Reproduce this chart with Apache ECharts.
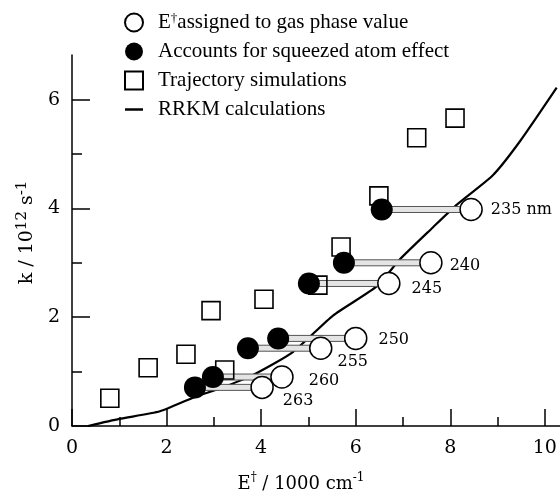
<!DOCTYPE html>
<html>
<head>
<meta charset="utf-8">
<script src="https://cdn.jsdelivr.net/npm/echarts@6/dist/echarts.min.js"></script>
<style>html,body{margin:0;padding:0;background:#fff}#c{width:560px;height:498px}</style>
</head>
<body>
<div id="c"></div>
<script>
// ---- data ----
const xTicks = [0, 2, 4, 6, 8, 10];
const yTicks = [0, 2, 4, 6];
const wavelengths = ['235 nm', '240', '245', '250', '255', '260', '263'];
const rateK = [3.98, 3.00, 2.62, 1.61, 1.43, 0.90, 0.71];
const gasPhaseE = [8.44, 7.59, 6.70, 6.00, 5.26, 4.44, 4.02];
const squeezedE = [6.55, 5.75, 5.01, 4.36, 3.72, 2.98, 2.60];
const trajE = [0.80, 1.61, 2.41, 2.94, 3.23, 4.06, 5.20, 5.69, 6.49, 7.29, 8.10];
const trajK = [0.51, 1.07, 1.32, 2.12, 1.03, 2.33, 2.59, 3.29, 4.23, 5.30, 5.66];
const rrkmE = [0.34, 1.0, 1.86, 2.56, 3.19, 3.83, 4.67, 5.52, 6.45, 6.93, 7.63, 8.14, 8.90, 9.47, 10.25];
const rrkmK = [0, 0.13, 0.27, 0.52, 0.71, 0.94, 1.36, 2.03, 2.57, 3.06, 3.65, 4.07, 4.61, 5.23, 6.22];
const seriesNames = ['E†assigned to gas phase value', 'Accounts for squeezed atom effect', 'Trajectory simulations', 'RRKM calculations'];

// ---- label placement (style) ----
const labelPlace = [[8, 0], [7, 3], [11, 5], [11, 1], [5, 14], [15, 4], [9, 13]];

const serif = 'DejaVu Serif';
const lserif = 'Liberation Serif';

const chart = echarts.init(document.getElementById('c'), null, {renderer: 'canvas'});

const openData = gasPhaseE.map((x, i) => ({
  value: [x, rateK[i]],
  label: {
    show: true, position: 'right', distance: labelPlace[i][0], offset: [0, labelPlace[i][1]],
    formatter: wavelengths[i], fontFamily: serif, fontSize: 16, color: '#000'
  }
}));

const option = {
  backgroundColor: '#fff',
  animation: false,
  grid: {left: 72, right: 0, top: 55, bottom: 66, containLabel: false},
  legend: {
    orient: 'vertical', left: 119, top: 7, itemWidth: 18, itemHeight: 18, itemGap: 8,
    data: [
      {name: seriesNames[0]},
      {name: seriesNames[1]},
      {name: seriesNames[2]},
      {name: seriesNames[3], icon: 'path://M0,0L16,0L16,2.2L0,2.2Z', itemStyle: {color: '#000', borderWidth: 0}}
    ],
    formatter: function (n) {
      if (n === seriesNames[0]) return '{a|E}{s|†}{a|assigned to gas phase value}';
      return '{a|' + n + '}';
    },
    textStyle: {
      padding: [0, 0, 0, 10],
      rich: {
        a: {fontFamily: lserif, fontSize: 21, color: '#000', lineHeight: 21},
        s: {fontFamily: lserif, fontSize: 13, color: '#000', lineHeight: 11, verticalAlign: 'top'}
      }
    }
  },
  xAxis: {
    type: 'value', min: 0, max: 10.32, interval: 2,
    splitLine: {show: false},
    axisLine: {lineStyle: {color: '#000', width: 1.5}},
    axisTick: {inside: true, length: 17, customValues: xTicks, lineStyle: {color: '#000', width: 1.5}},
    minorTick: {show: true, splitNumber: 2, length: 9, lineStyle: {color: '#000', width: 1.5}},
    axisLabel: {customValues: xTicks, margin: 13, fontFamily: serif, fontSize: 19, color: '#000'},
    name: '{a|E}{s|†}{a| / 1000 cm}{s|-1}',
    nameLocation: 'middle', nameGap: 46,
    nameTextStyle: {
      padding: [0, 30, 0, 0],
      rich: {
        a: {fontFamily: serif, fontSize: 18, color: '#000', lineHeight: 24},
        s: {fontFamily: serif, fontSize: 12, color: '#000', lineHeight: 12, verticalAlign: 'top'}
      }
    }
  },
  yAxis: {
    type: 'value', min: 0, max: 6.82, interval: 2,
    splitLine: {show: false},
    axisLine: {lineStyle: {color: '#000', width: 1.5}},
    axisTick: {inside: true, length: 18, customValues: yTicks, lineStyle: {color: '#000', width: 1.5}},
    minorTick: {show: true, splitNumber: 2, length: 10, lineStyle: {color: '#000', width: 1.5}},
    axisLabel: {customValues: yTicks, margin: 12, fontFamily: serif, fontSize: 19, color: '#000'},
    name: '{a|k / 10}{s|12}{a| s}{s|-1}',
    nameLocation: 'middle', nameGap: 30, nameRotate: 90,
    nameTextStyle: {
      padding: [0, 0, 0, 16],
      rich: {
        a: {fontFamily: serif, fontSize: 19, color: '#000', lineHeight: 26},
        s: {fontFamily: serif, fontSize: 15, color: '#000', lineHeight: 14, verticalAlign: 'top'}
      }
    }
  },
  series: [
    {
      name: seriesNames[3], type: 'line', z: 1,
      data: rrkmE.map((x, i) => [x, rrkmK[i]]),
      showSymbol: false, symbol: 'none', smooth: 0.2,
      lineStyle: {color: '#000', width: 2.2},
      itemStyle: {color: '#000'}
    },
    {
      name: 'connectors', type: 'custom', z: 2,
      data: squeezedE.map((x, i) => [x, gasPhaseE[i], rateK[i]]),
      encode: {x: [0, 1], y: 2},
      renderItem: function (params, api) {
        const p1 = api.coord([api.value(0), api.value(2)]);
        const p2 = api.coord([api.value(1), api.value(2)]);
        return {
          type: 'rect',
          shape: {x: p1[0], y: p1[1] - 3, width: p2[0] - p1[0], height: 6},
          style: {fill: '#e4e4e4', stroke: '#555', lineWidth: 1}
        };
      }
    },
    {
      name: seriesNames[2], type: 'scatter', z: 3,
      data: trajE.map((x, i) => [x, trajK[i]]),
      symbol: 'rect', symbolSize: 18,
      itemStyle: {color: 'rgba(255,255,255,0)', borderColor: '#000', borderWidth: 1.6, opacity: 1}
    },
    {
      name: seriesNames[1], type: 'scatter', z: 4,
      data: squeezedE.map((x, i) => [x, rateK[i]]),
      symbol: 'circle', symbolSize: 22,
      itemStyle: {color: '#000', opacity: 1}
    },
    {
      name: seriesNames[0], type: 'scatter', z: 5,
      data: openData,
      symbol: 'circle', symbolSize: 22,
      itemStyle: {color: '#fff', borderColor: '#000', borderWidth: 1.5, opacity: 1}
    }
  ]
};
chart.setOption(option);
</script>
</body>
</html>
